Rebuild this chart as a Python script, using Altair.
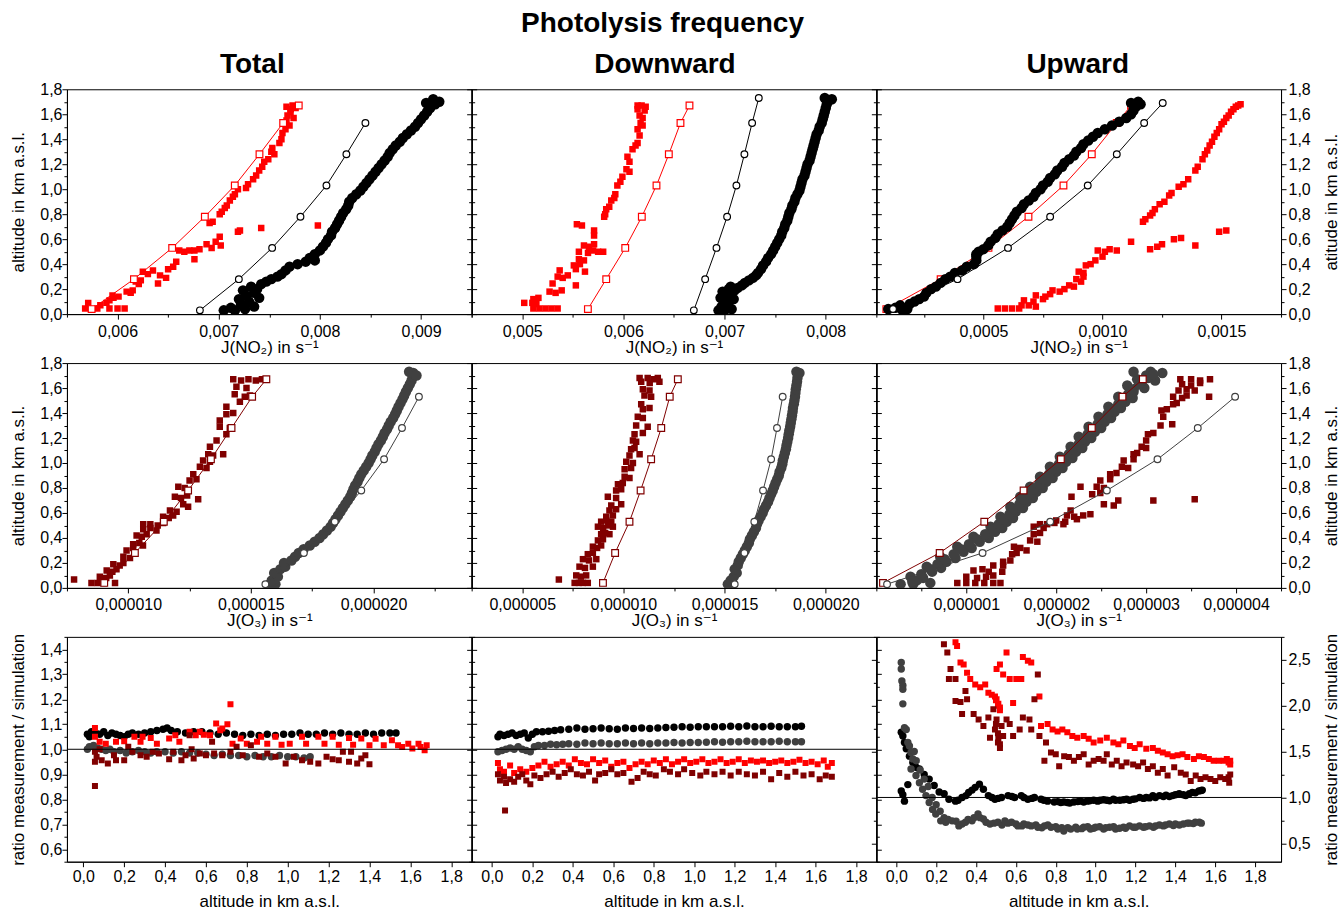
import altair as alt
import pandas as pd

FONT = "Liberation Sans, Arial, Helvetica, DejaVu Sans, sans-serif"
RED, DRED, BLACK, GRAY = "#ff0000", "#800000", "#000000", "#404040"

SIM_ALT_R = [0.04, 0.28, 0.53, 0.78, 1.03, 1.28, 1.53, 1.67]
SIM_ALT_B7 = [0.03, 0.28, 0.53, 0.78, 1.03, 1.28, 1.53]

# ---------------- Row 1: J(NO2) ----------------
A_red_sim = [0.005744, 0.006162, 0.00654, 0.006863, 0.007159, 0.007403, 0.007637, 0.007791]
A_blk_sim = [0.006814, 0.007199, 0.007528, 0.007808, 0.008065, 0.008262, 0.00845]
A_red = [(0.045,0.00568),(0.045,0.00580),(0.045,0.00592),(0.045,0.00600),(0.045,0.00607),(0.09,0.00571),
         (0.09,0.00589),(0.07,0.00583),(0.11,0.00592),(0.13,0.00596),(0.15,0.00595),(0.14,0.00601),(0.18,0.00609),
         (0.17,0.00613),(0.19,0.00615),(0.26,0.00618),(0.24,0.00621),(0.27,0.00623),(0.34,0.00625),(0.32,0.00630),
         (0.35,0.00635),(0.245,0.00640),(0.31,0.00642),(0.29,0.00648),(0.36,0.00650),(0.38,0.00655),(0.42,0.00658),
         (0.51,0.00661),(0.50,0.00666),(0.51,0.00671),(0.51,0.00676),(0.52,0.00681),(0.44,0.00676),(0.56,0.00688),
         (0.53,0.00693),(0.58,0.00697),(0.55,0.00702),(0.62,0.00701),(0.67,0.00721),(0.66,0.00719),(0.69,0.00742),
         (0.71,0.00798),(0.73,0.00691),(0.74,0.00694),(0.80,0.00701),(0.82,0.00703),(0.85,0.00706),(0.87,0.00708),
         (0.91,0.00711),(0.94,0.00714),(0.96,0.00716),(1.00,0.00719),(1.01,0.00727),(1.04,0.00729),(1.08,0.00734),
         (1.11,0.00737),(1.15,0.00740),(1.18,0.00743),(1.22,0.00745),(1.24,0.00749),(1.28,0.00755),(1.30,0.00752),
         (1.33,0.00753),(1.37,0.00760),(1.40,0.00762),(1.45,0.00763),(1.48,0.00766),(1.51,0.00770),(1.55,0.00767),
         (1.57,0.00774),(1.59,0.00768),(1.62,0.00771),(1.64,0.00771),(1.66,0.00767),(1.67,0.00773),(1.65,0.00776)]
A_blk = [(0.03,0.00705),(0.03,0.00716),(0.04,0.00726),(0.05,0.00712),(0.06,0.00735),(0.08,0.00722),(0.10,0.00730),
         (0.12,0.00720),(0.13,0.00740),(0.15,0.00727),(0.17,0.00735),(0.19,0.00724),(0.20,0.00738),(0.22,0.00732),
         (0.24,0.00742),(0.26,0.00747),(0.28,0.00752),(0.30,0.00758),(0.32,0.00762),(0.35,0.00766),(0.38,0.00770),
         (0.40,0.00778),(0.42,0.00786),(0.43,0.00795),(0.45,0.00790),(0.48,0.00795),(0.51,0.00800),(0.54,0.00803),
         (0.57,0.00806),(0.60,0.00808),(0.63,0.00811),(0.66,0.00812),(0.69,0.00815),(0.72,0.00817),(0.75,0.00819),
         (0.78,0.00821),(0.81,0.00823),(0.84,0.00826),(0.87,0.00828),(0.90,0.00829),(0.93,0.00832),(0.96,0.00836),
         (0.99,0.00840),(1.02,0.00843),(1.05,0.00846),(1.08,0.00849),(1.11,0.00852),(1.14,0.00855),(1.17,0.00858),
         (1.20,0.00861),(1.23,0.00864),(1.26,0.00867),(1.29,0.00869),(1.32,0.00872),(1.35,0.00875),(1.38,0.00879),
         (1.41,0.00882),(1.44,0.00886),(1.47,0.00890),(1.50,0.00894),(1.53,0.00897),(1.56,0.00900),(1.59,0.00903),
         (1.62,0.00906),(1.65,0.00909),(1.68,0.00914),(1.70,0.00918),(1.72,0.00912),(1.69,0.00905)]
B_red_sim = [0.005649, 0.00583, 0.006018, 0.006182, 0.006327, 0.006449, 0.006564, 0.006653]
B_blk_alt = [0.03, 0.28, 0.53, 0.78, 1.03, 1.28, 1.53, 1.73]
B_blk_sim = [0.006696, 0.006808, 0.00692, 0.007025, 0.007117, 0.007196, 0.007272, 0.007338]
B_red = [(0.045,0.00511),(0.045,0.00517),(0.045,0.00523),(0.045,0.00529),(0.045,0.00535),(0.09,0.00502),
         (0.09,0.00510),(0.08,0.00514),(0.12,0.00511),(0.13,0.00516),(0.18,0.00527),(0.17,0.00533),(0.19,0.00539),
         (0.245,0.00530),(0.23,0.00553),(0.30,0.00535),(0.29,0.00540),(0.31,0.00545),(0.35,0.00537),(0.36,0.00553),
         (0.34,0.00562),(0.39,0.00551),(0.40,0.00557),(0.44,0.00556),(0.43,0.00561),(0.50,0.00556),(0.49,0.00565),
         (0.51,0.00570),(0.50,0.00575),(0.50,0.00580),(0.55,0.00561),(0.54,0.00566),(0.56,0.00571),(0.63,0.00571),
         (0.67,0.00571),(0.72,0.00554),(0.71,0.00559),(0.78,0.00581),(0.80,0.00582),(0.84,0.00583),(0.86,0.00586),
         (0.91,0.00588),(0.93,0.00591),(0.96,0.00592),(1.03,0.00594),(1.06,0.00597),(1.10,0.00599),(1.16,0.00603),
         (1.14,0.00606),(1.22,0.00606),(1.26,0.00604),(1.32,0.00609),(1.35,0.00612),(1.37,0.00614),(1.43,0.00616),
         (1.48,0.00614),(1.53,0.00617),(1.51,0.00619),(1.59,0.00616),(1.57,0.00619),(1.64,0.00614),(1.63,0.00621),
         (1.67,0.00614),(1.67,0.00618),(1.66,0.00622)]
B_blk = [(0.03,0.00694),(0.03,0.00700),(0.04,0.00707),(0.06,0.00697),(0.08,0.00703),(0.10,0.00700),(0.12,0.00709),
         (0.13,0.00696),(0.14,0.00701),(0.16,0.00706),(0.18,0.00698),(0.19,0.00710),(0.20,0.00704),(0.21,0.00713),
         (0.22,0.00706),(0.23,0.00717),(0.25,0.00720),(0.27,0.00724),(0.29,0.00728),(0.31,0.00731),(0.33,0.00733),
         (0.36,0.00736),(0.39,0.00738),(0.42,0.00741),(0.45,0.00743),(0.48,0.00746),(0.51,0.00748),(0.54,0.00750),
         (0.57,0.00752),(0.60,0.00754),(0.63,0.00756),(0.66,0.00757),(0.69,0.00759),(0.72,0.00760),(0.75,0.00762),
         (0.78,0.00763),(0.81,0.00764),(0.84,0.00766),(0.87,0.00767),(0.90,0.00769),(0.93,0.00770),(0.96,0.00772),
         (0.99,0.00774),(1.02,0.00775),(1.05,0.00776),(1.08,0.00777),(1.11,0.00779),(1.14,0.00780),(1.17,0.00781),
         (1.20,0.00782),(1.23,0.00784),(1.26,0.00785),(1.29,0.00786),(1.32,0.00787),(1.35,0.00788),(1.38,0.00789),
         (1.41,0.00790),(1.44,0.00791),(1.47,0.00793),(1.50,0.00794),(1.53,0.00796),(1.56,0.00797),(1.59,0.00798),
         (1.62,0.00799),(1.65,0.00800),(1.68,0.00801),(1.71,0.00803),(1.73,0.00799),(1.72,0.00806)]
C_red_sim = [0.000092, 0.00032, 0.000521, 0.000689, 0.000836, 0.000955, 0.00106, 0.00112]
C_blk_alt = [0.04, 0.28, 0.53, 0.78, 1.03, 1.28, 1.53, 1.69]
C_blk_sim = [0.00012, 0.000391, 0.000603, 0.00078, 0.000938, 0.00106, 0.001175, 0.001253]
C_blk = [(0.04,0.00010),(0.05,0.00013),(0.03,0.00016),(0.04,0.00018),(0.07,0.00015),(0.08,0.00019),(0.10,0.00021),
         (0.12,0.00023),(0.14,0.00025),(0.17,0.00026),(0.20,0.00028),(0.22,0.00030),(0.25,0.00032),(0.28,0.00034),
         (0.30,0.00036),(0.33,0.00038),(0.35,0.00041),(0.38,0.00043),(0.40,0.00046),(0.43,0.00047),(0.46,0.00047),
         (0.48,0.00047),(0.50,0.00048),(0.52,0.00050),(0.55,0.00052),(0.58,0.00053),(0.61,0.00055),(0.64,0.00056),
         (0.67,0.00058),(0.70,0.00060),(0.73,0.00061),(0.76,0.00062),(0.79,0.00063),(0.82,0.00064),(0.85,0.00066),
         (0.88,0.00067),(0.91,0.00069),(0.94,0.00071),(0.97,0.00072),(1.00,0.00074),(1.03,0.00075),(1.06,0.00077),
         (1.09,0.00078),(1.12,0.00080),(1.15,0.00081),(1.18,0.00083),(1.21,0.00084),(1.24,0.00086),(1.27,0.00088),
         (1.30,0.00089),(1.33,0.00091),(1.36,0.00092),(1.39,0.00094),(1.42,0.00096),(1.45,0.00098),(1.48,0.00101),
         (1.51,0.00104),(1.54,0.00107),(1.57,0.00110),(1.60,0.00112),(1.63,0.00113),(1.66,0.00114),(1.68,0.00116),
         (1.69,0.00112),(1.70,0.00115)]
C_red = [(0.045,0.00056),(0.045,0.00059),(0.045,0.00062),(0.045,0.00065),(0.07,0.00066),(0.07,0.00069),(0.06,0.00072),
         (0.11,0.00067),(0.10,0.00071),(0.12,0.00075),(0.15,0.00072),(0.14,0.00076),(0.16,0.00078),(0.19,0.00079),
         (0.18,0.00082),(0.20,0.00084),(0.23,0.00086),(0.22,0.00088),(0.28,0.00089),(0.26,0.00091),(0.30,0.00092),
         (0.34,0.00090),(0.33,0.00092),(0.39,0.00093),(0.40,0.00095),(0.43,0.00097),(0.51,0.00098),(0.50,0.00101),
         (0.52,0.00103),(0.51,0.00106),(0.46,0.00100),(0.58,0.00112),(0.52,0.00120),(0.54,0.00123),(0.56,0.00125),
         (0.60,0.00130),(0.61,0.00133),(0.55,0.00139),(0.66,0.00149),(0.67,0.00152),(0.74,0.00117),(0.76,0.00118),
         (0.79,0.00120),(0.81,0.00121),(0.84,0.00122),(0.88,0.00124),(0.90,0.00126),(0.95,0.00128),(0.97,0.00129),
         (1.02,0.00132),(1.04,0.00134),(1.08,0.00136),(1.15,0.00139),(1.18,0.00140),(1.24,0.00142),(1.28,0.00143),
         (1.31,0.00144),(1.35,0.00145),(1.38,0.00146),(1.42,0.00147),(1.45,0.00148),(1.48,0.00149),(1.52,0.00150),
         (1.54,0.00151),(1.57,0.00152),(1.59,0.00153),(1.62,0.00154),(1.64,0.00155),(1.66,0.00156),(1.67,0.00157),
         (1.68,0.00158)]

# ---------------- Row 2: J(O3), values in 1e-6 s^-1 ----------------
D_dred_sim = [9.02, 10.27, 11.45, 12.44, 13.37, 14.21, 15.05, 15.63]
D_gray_sim = [15.59, 17.16, 18.42, 19.50, 20.43, 21.16, 21.85]
D_dred = [(0.067,7.79),(0.04,8.50),(0.04,8.75),(0.04,9.00),(0.04,9.46),(0.09,8.84),(0.08,9.10),(0.10,9.25),
          (0.14,9.12),(0.13,9.35),(0.15,9.52),(0.19,9.39),(0.18,9.65),(0.20,9.80),(0.25,9.80),(0.24,10.07),
          (0.30,9.93),(0.32,10.20),(0.35,10.20),(0.36,10.45),(0.34,10.60),(0.42,10.34),(0.41,10.55),(0.43,10.75),
          (0.47,10.61),(0.48,10.90),(0.46,11.15),(0.51,10.61),(0.51,10.90),(0.50,11.20),(0.52,11.42),(0.57,11.42),
          (0.56,11.65),(0.58,11.83),(0.62,11.70),(0.61,11.97),(0.67,12.24),(0.65,12.44),(0.73,11.90),(0.72,12.15),
          (0.74,12.40),(0.71,12.85),(0.81,12.04),(0.80,12.30),(0.86,12.50),(0.87,12.78),(0.91,12.65),(0.97,12.92),
          (0.96,13.19),(1.02,13.05),(1.01,13.33),(1.07,13.26),(1.06,13.46),(1.07,13.87),(1.13,13.33),(1.18,13.60),
          (1.23,14.00),(1.29,13.73),(1.28,14.14),(1.34,13.73),(1.39,14.00),(1.40,14.28),(1.45,14.00),(1.49,14.55),
          (1.55,14.34),(1.53,14.75),(1.54,14.96),(1.61,14.41),(1.60,14.82),(1.67,14.28),(1.66,14.60),(1.67,14.90),
          (1.66,15.20),(1.67,15.45)]
D_gray = [(0.03,15.77),(0.03,16.00),(0.06,15.85),(0.09,16.10),(0.12,15.95),(0.15,16.20),(0.17,16.40),(0.20,16.35),
          (0.22,16.65),(0.25,16.80),(0.28,16.95),(0.31,17.15),(0.34,17.40),(0.37,17.60),(0.40,17.80),(0.43,17.95),
          (0.46,18.10),(0.49,18.25),(0.52,18.35),(0.55,18.45),(0.58,18.55),(0.61,18.65),(0.64,18.75),(0.67,18.85),
          (0.70,18.95),(0.73,19.05),(0.76,19.12),(0.79,19.18),(0.82,19.25),(0.85,19.35),(0.88,19.42),(0.91,19.50),
          (0.94,19.60),(0.97,19.70),(1.00,19.80),(1.03,19.88),(1.06,19.95),(1.09,20.05),(1.12,20.12),(1.15,20.20),
          (1.18,20.30),(1.21,20.38),(1.24,20.45),(1.27,20.55),(1.30,20.62),(1.33,20.70),(1.36,20.80),(1.39,20.88),
          (1.42,20.95),(1.45,21.02),(1.48,21.10),(1.51,21.18),(1.54,21.25),(1.57,21.32),(1.60,21.40),(1.63,21.48),
          (1.66,21.55),(1.69,21.60),(1.72,21.62),(1.73,21.45),(1.70,21.75)]
E_dred_sim = [8.99, 9.59, 10.30, 10.85, 11.37, 11.87, 12.29, 12.69]
E_gray_sim = [15.50, 15.98, 16.47, 16.90, 17.30, 17.59, 17.87]
E_dred = [(0.067,6.81),(0.04,7.59),(0.04,7.80),(0.04,8.00),(0.04,8.24),(0.10,7.67),(0.09,7.90),(0.10,8.16),
          (0.17,7.83),(0.16,8.10),(0.17,8.49),(0.23,8.00),(0.22,8.30),(0.23,8.66),(0.27,8.24),(0.28,8.49),
          (0.33,8.49),(0.32,8.70),(0.34,8.90),(0.38,8.74),(0.39,8.99),(0.43,8.90),(0.44,9.10),(0.43,9.31),
          (0.49,8.74),(0.48,9.00),(0.50,9.25),(0.49,9.48),(0.53,8.90),(0.54,9.15),(0.53,9.40),(0.57,9.15),
          (0.58,9.48),(0.62,9.31),(0.63,9.64),(0.66,9.40),(0.67,9.89),(0.73,9.23),(0.72,9.64),(0.78,9.64),
          (0.79,9.89),(0.83,9.73),(0.84,9.97),(0.89,10.06),(0.88,10.30),(0.95,10.06),(0.96,10.38),(1.01,10.14),
          (1.00,10.47),(1.06,10.30),(1.07,10.80),(1.11,10.38),(1.12,10.55),(1.18,10.47),(1.17,10.63),(1.23,10.55),
          (1.24,10.96),(1.30,10.63),(1.29,11.20),(1.37,10.71),(1.36,10.96),(1.43,10.96),(1.44,11.29),(1.47,10.88),
          (1.54,11.04),(1.53,11.37),(1.59,10.96),(1.58,11.29),(1.65,10.88),(1.64,11.30),(1.65,11.78),(1.68,10.80),
          (1.68,11.20),(1.67,11.50),(1.68,11.70)]
E_gray = [(0.03,15.16),(0.03,15.40),(0.06,15.30),(0.09,15.45),(0.12,15.60),(0.15,15.50),(0.18,15.65),(0.21,15.70),
          (0.24,15.80),(0.27,15.90),(0.30,16.00),(0.33,16.10),(0.36,16.20),(0.39,16.25),(0.42,16.35),(0.45,16.45),
          (0.48,16.55),(0.51,16.60),(0.54,16.68),(0.57,16.78),(0.60,16.88),(0.63,16.95),(0.66,17.05),(0.69,17.15),
          (0.72,17.22),(0.75,17.30),(0.78,17.38),(0.81,17.45),(0.84,17.52),(0.87,17.60),(0.90,17.68),(0.93,17.72),
          (0.96,17.80),(0.99,17.85),(1.02,17.88),(1.05,17.93),(1.08,17.98),(1.11,18.03),(1.14,18.06),(1.17,18.10),
          (1.20,18.14),(1.23,18.17),(1.26,18.20),(1.29,18.24),(1.32,18.27),(1.35,18.30),(1.38,18.33),(1.41,18.36),
          (1.44,18.38),(1.47,18.42),(1.50,18.45),(1.53,18.48),(1.56,18.50),(1.59,18.52),(1.62,18.55),(1.65,18.58),
          (1.68,18.60),(1.71,18.62),(1.73,18.55),(1.72,18.70)]
F_dred_sim = [0.074, 0.704, 1.20, 1.637, 2.052, 2.396, 2.737, 2.963]
F_gray_sim = [0.119, 1.181, 1.933, 2.563, 3.126, 3.574, 3.989]
F_gray = [(0.03,0.27),(0.03,0.41),(0.04,0.60),(0.09,0.38),(0.08,0.52),(0.06,0.45),(0.13,0.62),(0.17,0.56),
          (0.16,0.72),(0.21,0.78),(0.25,0.71),(0.24,0.88),(0.29,0.97),(0.33,0.90),(0.32,1.06),(0.37,1.15),
          (0.41,1.08),(0.40,1.25),(0.45,1.32),(0.49,1.27),(0.48,1.40),(0.53,1.45),(0.57,1.38),(0.56,1.52),
          (0.61,1.55),(0.65,1.49),(0.64,1.63),(0.69,1.67),(0.73,1.60),(0.72,1.74),(0.77,1.78),(0.81,1.71),
          (0.80,1.85),(0.85,1.89),(0.89,1.82),(0.88,1.96),(0.93,2.00),(0.97,1.93),(0.96,2.07),(1.01,2.11),
          (1.05,2.04),(1.04,2.18),(1.09,2.22),(1.13,2.16),(1.12,2.29),(1.17,2.32),(1.21,2.25),(1.20,2.39),
          (1.25,2.43),(1.29,2.36),(1.28,2.50),(1.33,2.54),(1.37,2.47),(1.36,2.61),(1.41,2.65),(1.45,2.58),
          (1.44,2.72),(1.49,2.77),(1.53,2.69),(1.52,2.85),(1.57,2.86),(1.62,2.79),(1.60,2.98),(1.64,2.95),
          (1.67,2.90),(1.66,3.10),(1.70,3.00),(1.73,2.86),(1.73,3.05),(1.72,3.18),
          (0.05,0.40),(0.11,0.50),(0.15,0.60),(0.19,0.68),(0.23,0.76),(0.27,0.86),(0.31,0.94),(0.35,1.03),
          (0.39,1.12),(0.43,1.21),(0.47,1.30),(0.51,1.36),(0.55,1.42),(0.59,1.48),(0.63,1.53),(0.67,1.59),
          (0.71,1.64),(0.75,1.70),(0.79,1.75),(0.83,1.81),(0.87,1.86),(0.91,1.92),(0.95,1.97),(0.99,2.03),
          (1.03,2.08),(1.07,2.14),(1.11,2.19),(1.15,2.25),(1.19,2.30),(1.23,2.35),(1.27,2.41),(1.31,2.46),
          (1.35,2.52),(1.39,2.57),(1.43,2.63),(1.47,2.69),(1.51,2.74),(1.55,2.80),(1.59,2.86),(1.63,2.92),
          (1.68,3.02),(1.71,3.08)]
F_dred = [(0.04,0.90),(0.04,1.00),(0.04,1.10),(0.04,1.20),(0.04,1.30),(0.04,1.38),(0.09,1.00),(0.08,1.12),
          (0.09,1.22),(0.10,1.30),(0.14,1.08),(0.15,1.18),(0.13,1.25),(0.13,1.40),(0.18,1.30),(0.18,1.41),
          (0.21,1.41),(0.22,1.49),(0.27,1.51),(0.28,1.56),(0.33,1.53),(0.32,1.60),(0.30,1.67),(0.38,1.71),
          (0.37,1.79),(0.43,1.75),(0.44,1.82),(0.49,1.75),(0.48,1.86),(0.51,1.82),(0.51,1.90),(0.52,1.98),
          (0.51,2.08),(0.54,2.00),(0.53,2.10),(0.55,2.23),(0.58,2.12),(0.57,2.20),(0.58,2.30),(0.59,2.38),
          (0.62,2.16),(0.73,2.17),(0.81,2.27),(0.67,2.53),(0.66,2.64),(0.70,2.69),(0.70,3.08),(0.71,3.54),
          (0.75,2.40),(0.76,2.49),(0.81,2.45),(0.80,2.53),(0.86,2.49),(0.87,2.60),(0.91,2.60),(0.92,2.67),
          (0.97,2.73),(0.96,2.80),(1.02,2.75),(1.03,2.86),(1.07,2.86),(1.08,2.90),(1.13,2.95),(1.12,3.00),
          (1.18,3.00),(1.23,3.02),(1.24,3.08),(1.30,3.16),(1.31,3.29),(1.37,3.19),(1.42,3.17),(1.43,3.23),
          (1.47,3.30),(1.48,3.34),(1.53,3.30),(1.52,3.40),(1.54,3.45),(1.53,3.70),(1.58,3.36),(1.59,3.45),
          (1.58,3.54),(1.63,3.40),(1.62,3.50),(1.64,3.60),(1.67,3.38),(1.67,3.50),(1.66,3.60),(1.67,3.71)]

# ---------------- Row 3: ratio measurement / simulation vs altitude ----------------
G_blk = [(0.02,1.06),(0.03,1.05),(0.04,1.07),(0.06,1.065),(0.08,1.06),(0.10,1.07),(0.12,1.055),(0.14,1.065),
         (0.16,1.06),(0.18,1.055),(0.20,1.05),(0.22,1.06),(0.24,1.065),(0.27,1.06),(0.30,1.065),(0.33,1.07),
         (0.36,1.075),(0.39,1.08),(0.41,1.085),(0.43,1.075),(0.46,1.07),(0.50,1.065),(0.54,1.07),(0.58,1.07),
         (0.62,1.065),(0.66,1.06),(0.70,1.065),(0.74,1.06),(0.78,1.055),(0.82,1.06),(0.86,1.055),(0.90,1.06),
         (0.94,1.055),(0.98,1.06),(1.02,1.06),(1.06,1.065),(1.10,1.06),(1.14,1.06),(1.18,1.065),(1.22,1.06),
         (1.26,1.065),(1.30,1.06),(1.34,1.06),(1.38,1.065),(1.42,1.06),(1.46,1.065),(1.50,1.065),(1.53,1.065)]
G_gray = [(0.02,1.0),(0.03,1.01),(0.05,1.015),(0.07,1.005),(0.09,1.0),(0.11,0.995),(0.13,1.0),(0.15,0.99),
          (0.18,0.995),(0.21,0.985),(0.24,0.99),(0.27,0.995),(0.30,0.99),(0.33,0.985),(0.36,0.99),(0.40,0.99),
          (0.44,0.985),(0.48,0.99),(0.52,0.985),(0.56,0.985),(0.60,0.98),(0.64,0.975),(0.68,0.98),(0.72,0.975),
          (0.76,0.975),(0.80,0.97),(0.84,0.975),(0.88,0.97),(0.92,0.97),(0.96,0.975),(1.00,0.97),(1.04,0.97),
          (1.08,0.965),(1.11,0.97)]
G_red = [(0.057,1.085),(0.057,1.05),(0.08,1.03),(0.11,1.022),(0.16,1.03),(0.20,1.032),(0.25,1.05),(0.28,1.03),
         (0.29,1.05),(0.33,1.045),(0.36,1.022),(0.42,1.043),(0.45,1.056),(0.47,1.03),(0.52,1.07),(0.55,1.056),
         (0.57,1.07),(0.59,1.058),(0.62,1.056),(0.65,1.103),(0.67,1.076),(0.68,1.083),(0.705,1.10),(0.72,1.18),
         (0.73,1.022),(0.77,1.043),(0.80,1.022),(0.85,1.03),(0.87,1.05),(0.90,1.022),(0.94,1.05),(0.97,1.018),
         (1.01,1.022),(1.07,1.05),(1.09,1.022),(1.15,1.05),(1.18,1.022),(1.22,1.05),(1.25,1.018),(1.30,1.045),
         (1.32,1.018),(1.36,1.043),(1.40,1.016),(1.43,1.042),(1.47,1.016),(1.51,1.036),(1.54,1.016),(1.56,1.009),
         (1.59,1.022),(1.61,1.003),(1.64,1.022),(1.65,1.009),(1.67,0.996),(1.68,1.016)]
G_dred = [(0.057,0.99),(0.057,0.95),(0.057,0.853),(0.065,0.97),(0.08,1.0),(0.09,0.956),(0.12,0.943),(0.15,0.976),
          (0.16,0.956),(0.20,0.956),(0.22,1.01),(0.24,0.99),(0.28,0.976),(0.31,0.97),(0.34,0.99),(0.37,0.983),
          (0.42,0.96),(0.44,0.99),(0.48,0.956),(0.50,0.976),(0.52,1.056),(0.53,1.0),(0.54,0.963),(0.57,0.983),
          (0.60,0.976),(0.63,1.03),(0.64,0.983),(0.68,0.976),(0.72,0.99),(0.75,1.01),(0.78,0.976),(0.82,1.016),
          (0.86,0.97),(0.90,0.983),(0.94,0.97),(0.99,0.943),(1.03,0.97),(1.07,0.956),(1.11,0.95),(1.15,0.943),
          (1.19,0.97),(1.22,0.96),(1.25,0.956),(1.27,0.99),(1.30,0.95),(1.31,0.99),(1.34,0.943),(1.36,0.963),
          (1.38,0.976),(1.40,0.94)]
H_blk = [(0.03,1.05),(0.04,1.06),(0.06,1.055),(0.08,1.06),(0.10,1.065),(0.12,1.055),(0.14,1.06),(0.16,1.065),
         (0.18,1.045),(0.20,1.06),(0.22,1.07),(0.25,1.07),(0.28,1.072),(0.31,1.075),(0.34,1.078),(0.38,1.08),
         (0.42,1.085),(0.46,1.08),(0.50,1.082),(0.54,1.085),(0.58,1.082),(0.62,1.08),(0.66,1.085),(0.70,1.083),
         (0.74,1.085),(0.78,1.083),(0.82,1.085),(0.86,1.087),(0.90,1.088),(0.94,1.09),(0.98,1.088),(1.02,1.09),
         (1.06,1.09),(1.10,1.09),(1.14,1.09),(1.18,1.092),(1.22,1.09),(1.26,1.093),(1.30,1.09),(1.34,1.09),
         (1.38,1.092),(1.42,1.09),(1.46,1.09),(1.50,1.09),(1.53,1.092)]
H_gray = [(0.03,0.99),(0.05,0.995),(0.07,1.0),(0.09,1.005),(0.11,1.0),(0.13,1.01),(0.15,1.0),(0.17,0.995),
          (0.19,0.99),(0.21,1.01),(0.23,1.015),(0.26,1.015),(0.29,1.02),(0.32,1.018),(0.35,1.02),(0.38,1.022),
          (0.42,1.02),(0.46,1.025),(0.50,1.022),(0.54,1.025),(0.58,1.022),(0.62,1.022),(0.66,1.025),(0.70,1.022),
          (0.74,1.025),(0.78,1.022),(0.82,1.025),(0.86,1.025),(0.90,1.027),(0.94,1.025),(0.98,1.027),(1.02,1.027),
          (1.06,1.028),(1.10,1.03),(1.14,1.028),(1.18,1.03),(1.22,1.03),(1.26,1.032),(1.30,1.03),(1.34,1.03),
          (1.38,1.03),(1.42,1.032),(1.46,1.03),(1.50,1.03),(1.53,1.03)]
H_red = [(0.03,0.945),(0.04,0.92),(0.06,0.91),(0.09,0.935),(0.11,0.905),(0.14,0.92),(0.17,0.91),(0.20,0.925),
         (0.23,0.935),(0.26,0.95),(0.29,0.93),(0.32,0.94),(0.35,0.95),(0.38,0.935),(0.41,0.96),(0.44,0.945),
         (0.47,0.94),(0.50,0.96),(0.53,0.945),(0.56,0.955),(0.59,0.93),(0.62,0.945),(0.65,0.95),(0.68,0.925),
         (0.71,0.94),(0.74,0.95),(0.77,0.94),(0.80,0.955),(0.83,0.945),(0.86,0.96),(0.89,0.94),(0.92,0.95),
         (0.95,0.96),(0.98,0.945),(1.01,0.95),(1.04,0.96),(1.07,0.945),(1.10,0.95),(1.13,0.96),(1.16,0.945),
         (1.19,0.95),(1.22,0.96),(1.25,0.945),(1.28,0.955),(1.31,0.95),(1.34,0.955),(1.37,0.945),(1.40,0.95),
         (1.43,0.955),(1.46,0.945),(1.49,0.95),(1.52,0.958),(1.55,0.945),(1.58,0.95),(1.61,0.94),(1.64,0.955),
         (1.66,0.93),(1.68,0.945)]
H_dred = [(0.03,0.90),(0.04,0.875),(0.06,0.89),(0.065,0.755),(0.07,0.865),(0.09,0.88),(0.11,0.87),(0.13,0.89),
          (0.15,0.90),(0.17,0.875),(0.19,0.86),(0.21,0.895),(0.24,0.885),(0.27,0.90),(0.30,0.91),(0.33,0.89),
          (0.36,0.905),(0.39,0.92),(0.42,0.90),(0.45,0.895),(0.48,0.91),(0.51,0.875),(0.53,0.90),(0.56,0.905),
          (0.59,0.92),(0.62,0.90),(0.65,0.905),(0.69,0.87),(0.72,0.885),(0.75,0.91),(0.78,0.90),(0.81,0.895),
          (0.85,0.92),(0.88,0.91),(0.92,0.90),(0.95,0.92),(0.99,0.905),(1.03,0.895),(1.06,0.91),(1.10,0.90),
          (1.14,0.91),(1.18,0.895),(1.22,0.91),(1.26,0.90),(1.30,0.895),(1.34,0.91),(1.38,0.88),(1.42,0.905),
          (1.46,0.89),(1.50,0.91),(1.54,0.895),(1.58,0.90),(1.62,0.88),(1.65,0.895),(1.68,0.89)]
I_blk = [(0.025,1.71),(0.033,1.67),(0.025,1.07),(0.033,1.03),(0.041,0.96),(0.058,1.14),(0.041,1.60),(0.05,1.53),
         (0.066,1.45),(0.083,1.38),(0.099,1.33),(0.116,1.31),(0.14,1.25),(0.165,1.20),(0.19,1.13),(0.215,1.06),
         (0.24,1.04),(0.264,0.98),(0.297,0.96),(0.31,0.97),(0.33,1.00),(0.35,1.02),(0.363,1.055),(0.38,1.08),
         (0.396,1.11),(0.417,1.145),(0.437,1.09),(0.462,1.02),(0.48,1.00),(0.495,0.98),(0.51,0.99),(0.528,1.00),
         (0.561,1.02),(0.58,1.01),(0.594,1.00),(0.627,1.02),(0.64,1.00),(0.66,0.98),(0.68,0.99),(0.693,1.00),
         (0.726,0.98),(0.74,0.97),(0.759,0.96),(0.792,0.95),(0.81,0.955),(0.825,0.945),(0.84,0.95),(0.858,0.945),
         (0.87,0.94),(0.891,0.95),(0.91,0.955),(0.924,0.96),(0.94,0.95),(0.957,0.96),(0.97,0.965),(0.99,0.97),
         (1.01,0.96),(1.023,0.97),(1.04,0.975),(1.056,0.97),(1.07,0.965),(1.089,0.98),(1.10,0.97),(1.122,0.97),
         (1.14,0.975),(1.155,0.98),(1.17,0.97),(1.188,0.98),(1.20,0.985),(1.221,1.00),(1.24,0.99),(1.254,1.00),
         (1.27,0.995),(1.287,1.02),(1.30,1.00),(1.32,1.02),(1.34,1.01),(1.353,1.025),(1.37,1.01),(1.386,1.02),
         (1.40,1.03),(1.419,1.04),(1.44,1.03),(1.452,1.02),(1.47,1.04),(1.485,1.055),(1.50,1.05),(1.518,1.07),
         (1.53,1.075),(1.535,1.08)]
I_gray = [(0.025,2.47),(0.025,2.40),(0.028,2.27),(0.033,2.22),(0.033,2.18),(0.033,2.02),(0.041,1.76),(0.05,1.74),
          (0.058,1.60),(0.066,1.56),(0.074,1.49),(0.083,1.42),(0.074,1.31),(0.09,1.50),(0.10,1.40),(0.099,1.24),
          (0.12,1.30),(0.116,1.16),(0.14,1.20),(0.132,1.09),(0.16,1.12),(0.149,1.02),(0.18,1.00),(0.165,0.945),
          (0.182,0.87),(0.20,0.92),(0.198,0.82),(0.22,0.85),(0.223,0.745),(0.24,0.78),(0.248,0.73),(0.26,0.76),
          (0.28,0.745),(0.30,0.74),(0.314,0.69),(0.33,0.71),(0.347,0.73),(0.36,0.76),(0.38,0.745),(0.39,0.78),
          (0.41,0.82),(0.42,0.78),(0.437,0.765),(0.45,0.73),(0.47,0.71),(0.49,0.72),(0.51,0.73),(0.53,0.70),
          (0.545,0.745),(0.56,0.72),(0.578,0.73),(0.60,0.71),(0.61,0.69),(0.63,0.69),(0.64,0.71),(0.66,0.70),
          (0.677,0.69),(0.70,0.70),(0.71,0.675),(0.73,0.67),(0.743,0.69),(0.76,0.70),(0.776,0.675),(0.80,0.68),
          (0.81,0.655),(0.83,0.67),(0.84,0.635),(0.86,0.67),(0.875,0.655),(0.90,0.675),(0.908,0.655),(0.93,0.66),
          (0.94,0.675),(0.96,0.68),(0.974,0.655),(0.99,0.665),(1.00,0.675),(1.02,0.68),(1.04,0.655),(1.05,0.67),
          (1.07,0.675),(1.09,0.68),(1.10,0.655),(1.12,0.665),(1.14,0.675),(1.15,0.665),(1.17,0.69),(1.19,0.675),
          (1.20,0.675),(1.22,0.69),(1.24,0.675),(1.25,0.68),(1.27,0.69),(1.29,0.675),(1.30,0.69),(1.32,0.70),
          (1.34,0.69),(1.35,0.70),(1.37,0.71),(1.39,0.695),(1.40,0.71),(1.42,0.70),(1.44,0.71),(1.46,0.72),
          (1.47,0.72),(1.49,0.715),(1.50,0.73),(1.52,0.73),(1.53,0.72)]
I_red = [(0.297,2.69),(0.305,2.65),(0.322,2.47),(0.338,2.45),(0.355,2.36),(0.371,2.29),(0.396,2.23),(0.421,2.20),
         (0.446,2.23),(0.462,2.14),(0.479,2.12),(0.495,2.10),(0.50,2.06),(0.503,2.07),(0.51,2.00),(0.512,2.02),
         (0.52,1.95),(0.52,1.98),(0.503,2.40),(0.52,2.45),(0.536,2.34),(0.553,2.58),(0.569,2.29),(0.586,2.03),
         (0.602,2.29),(0.627,2.29),(0.635,2.53),(0.66,2.49),(0.677,2.47),(0.718,2.10),(0.726,1.78),(0.759,1.80),
         (0.784,1.74),(0.809,1.72),(0.833,1.74),(0.858,1.71),(0.883,1.67),(0.908,1.65),(0.94,1.67),(0.965,1.64),
         (0.99,1.60),(1.023,1.62),(1.056,1.65),(1.089,1.60),(1.114,1.58),(1.139,1.62),(1.172,1.56),(1.196,1.54),
         (1.221,1.58),(1.254,1.53),(1.287,1.54),(1.312,1.51),(1.337,1.49),(1.361,1.47),(1.386,1.45),(1.411,1.46),
         (1.436,1.47),(1.46,1.44),(1.493,1.42),(1.518,1.45),(1.543,1.44),(1.568,1.42),(1.592,1.40),(1.617,1.40),
         (1.642,1.40),(1.658,1.42),(1.667,1.38),(1.675,1.40),(1.675,1.36)]
I_dred = [(0.239,2.67),(0.256,2.58),(0.272,2.40),(0.264,2.29),(0.297,2.29),(0.322,2.04),(0.297,2.05),(0.347,2.16),
          (0.33,1.91),(0.355,2.07),(0.388,1.91),(0.413,1.85),(0.437,1.78),(0.462,1.87),(0.47,1.65),(0.487,1.96),
          (0.495,1.74),(0.50,1.80),(0.503,1.85),(0.51,1.70),(0.51,1.60),(0.512,1.64),(0.52,1.54),(0.52,1.58),
          (0.528,1.78),(0.536,1.67),(0.553,1.85),(0.569,1.80),(0.586,1.67),(0.619,1.74),(0.635,1.87),(0.668,1.85),
          (0.677,1.74),(0.693,2.07),(0.71,2.34),(0.718,1.67),(0.743,1.40),(0.751,1.60),(0.776,1.49),(0.80,1.47),
          (0.817,1.34),(0.842,1.45),(0.866,1.44),(0.891,1.40),(0.916,1.44),(0.94,1.47),(0.965,1.36),(0.99,1.40),
          (1.015,1.42),(1.04,1.40),(1.056,1.47),(1.081,1.36),(1.106,1.40),(1.13,1.34),(1.155,1.38),(1.188,1.36),
          (1.213,1.34),(1.238,1.38),(1.262,1.31),(1.287,1.34),(1.312,1.27),(1.337,1.31),(1.361,1.24),(1.394,1.33),
          (1.427,1.27),(1.452,1.25),(1.477,1.18),(1.502,1.24),(1.526,1.20),(1.551,1.22),(1.576,1.20),(1.60,1.18),
          (1.625,1.22),(1.65,1.20),(1.667,1.22),(1.67,1.16),(1.675,1.25)]


# ---------------- helpers ----------------
def pairs_df(pairs, scale=1.0, swap=False):
    if swap:  # (x, y) pairs
        return pd.DataFrame({"x": [p[0] for p in pairs], "y": [p[1] for p in pairs]})
    return pd.DataFrame({"y": [p[0] for p in pairs], "x": [p[1] * scale for p in pairs]})


def sim_df(alts, vals, scale=1.0):
    return pd.DataFrame({"y": alts, "x": [v * scale for v in vals]})


def steps(start, stop, step, nd=9):
    out, v = [], start
    while v <= stop + step * 1e-6:
        out.append(round(v, nd))
        v += step
    return out


def mk_axis(orient, values, major, fmt, labels=True, title=None, label_pad=3, title_pad=4,
            title_angle=None, title_baseline=None):
    test = f"abs(datum.value/{major!r} - round(datum.value/{major!r})) < 1e-6"
    kw = dict(orient=orient, values=values, grid=False, ticks=True, domain=True,
              domainColor="black", tickColor="black", domainWidth=1, tickWidth=1,
              tickSize={"condition": {"test": test, "value": 5}, "value": 3},
              labels=labels, labelFont=FONT, labelFontSize=16, labelColor="black",
              labelOverlap=False, labelFlush=False, labelPadding=label_pad,
              titleFont=FONT, titleFontSize=17, titleFontWeight="normal", titleColor="black",
              titlePadding=title_pad, title=title)
    if labels:
        kw["labelExpr"] = f"{test} ? replace(format(datum.value, '{fmt}'), '.', ',') : ''"
    if title_angle is not None:
        kw["titleAngle"] = title_angle
    if title_baseline is not None:
        kw["titleBaseline"] = title_baseline
    return alt.Axis(**kw)


def layer_chart(df, kind, color, xs, ys, xaxis, yaxis, size):
    # x: only the first layer carries explicit axis settings (others merge into it)
    xenc = alt.X("x:Q", scale=xs, axis=xaxis) if xaxis is not None else alt.X("x:Q", scale=xs)
    enc = dict(x=xenc, y=alt.Y("y:Q", scale=ys, axis=yaxis))
    c = alt.Chart(df)
    if kind == "sq":
        m = c.mark_square(color=color, size=size, opacity=1, clip=True)
    elif kind == "ci":
        m = c.mark_circle(color=color, size=size, opacity=1, clip=True)
    elif kind == "line":
        m = c.mark_line(color=color, strokeWidth=1, clip=True)
        enc["order"] = alt.Order("y:Q")
    elif kind == "osq":
        m = c.mark_point(shape="square", filled=True, fill="white", stroke=color, strokeWidth=1.2,
                         size=size, opacity=1, clip=True)
    elif kind == "oci":
        m = c.mark_point(shape="circle", filled=True, fill="white", stroke=color, strokeWidth=1.2,
                         size=size, opacity=1, clip=True)
    else:  # rule at y = 1
        m = c.mark_rule(color=color, strokeWidth=1)
        enc = dict(y=alt.Y("y:Q", scale=ys, axis=yaxis))
    return m.encode(**enc)


def panel(layers, xdom, ydom, xaxis, yl, yr, w, h, title=None, title_dx=0, title_off=9):
    xs = alt.Scale(domain=xdom, nice=False, zero=False)
    ys = alt.Scale(domain=ydom, nice=False, zero=False)
    charts = []
    n = len(layers)
    for i, (df, kind, color, size) in enumerate(layers):
        xa = xaxis if i == 0 else None
        ya = yl if i == 0 else (yr if i == n - 1 else None)
        charts.append(layer_chart(df, kind, color, xs, ys, xa, ya, size))
    ch = alt.layer(*charts).resolve_axis(y="independent").properties(width=w, height=h)
    if title:
        ch = ch.properties(title=alt.TitleParams(title, font=FONT, fontSize=28, fontWeight="bold",
                                                 color="black", offset=title_off, frame="group", dx=title_dx))
    return ch


W = 405
H = 225
ALT_VALS = steps(0.0, 1.8, 0.1, 2)
T_NO2 = "J(NO\u2082) in s\u207b\u00b9"
T_O3 = "J(O\u2083) in s\u207b\u00b9"
T_ALT = "altitude in km a.s.l."
T_RATIO = "ratio measurement / simulation"
S_SQ, S_CI, S_OSQ, S_OCI = 42, 110, 45, 45


def yaxes(col, vals, major, left_title, right_title):
    yl = mk_axis("left", vals, major, ".1f", labels=(col == 0), title=(left_title if col == 0 else None),
                 label_pad=0, title_pad=12)
    yr = mk_axis("right", vals, major, ".1f", labels=(col == 2), title=(right_title if col == 2 else None),
                 label_pad=2, title_pad=13, title_angle=270, title_baseline="top")
    return yl, yr


panels = []
# Row 1
for col, (xdom, xvals, major, fmt, lays, title, tdx, toff) in enumerate([
    ([0.0055, 0.0095], steps(0.0055, 0.0095, 0.0005), 0.001, ".3f",
     [(pairs_df(A_red), "sq", RED, S_SQ), (pairs_df(A_blk), "ci", BLACK, S_CI),
      (sim_df(SIM_ALT_R, A_red_sim), "line", RED, 0), (sim_df(SIM_ALT_R, A_red_sim), "osq", RED, S_OSQ),
      (sim_df(SIM_ALT_B7, A_blk_sim), "line", BLACK, 0), (sim_df(SIM_ALT_B7, A_blk_sim), "oci", BLACK, S_OCI)],
     "Total", -17, 2),
    ([0.0045, 0.0085], steps(0.0045, 0.0085, 0.0005), 0.001, ".3f",
     [(pairs_df(B_red), "sq", RED, S_SQ), (pairs_df(B_blk), "ci", BLACK, S_CI),
      (sim_df(SIM_ALT_R, B_red_sim), "line", RED, 0), (sim_df(SIM_ALT_R, B_red_sim), "osq", RED, S_OSQ),
      (sim_df(B_blk_alt, B_blk_sim), "line", BLACK, 0), (sim_df(B_blk_alt, B_blk_sim), "oci", BLACK, S_OCI)],
     "Downward", -9, 10),
    ([0.00005, 0.00175], steps(0.00025, 0.00175, 0.00025), 0.0005, ".4f",
     [(sim_df(SIM_ALT_R, C_red_sim), "line", RED, 0), (sim_df(SIM_ALT_R, C_red_sim), "osq", RED, S_OSQ),
      (pairs_df(C_blk), "ci", BLACK, S_CI), (pairs_df(C_red), "sq", RED, S_SQ),
      (sim_df(C_blk_alt, C_blk_sim), "line", BLACK, 0), (sim_df(C_blk_alt, C_blk_sim), "oci", BLACK, S_OCI)],
     "Upward", -1, 2),
]):
    xa = mk_axis("bottom", xvals, major, fmt, title=T_NO2, label_pad=4, title_pad=0)
    yl, yr = yaxes(col, ALT_VALS, 0.2, T_ALT, "atitude in km a.s.l.")
    panels.append(panel(lays, xdom, [0, 1.8], xa, yl, yr, W, H, title, tdx, toff))

# Row 2
U = 1e-6
for col, (xdom, xvals, major, fmt, lays) in enumerate([
    ([7.5e-6, 24e-6], steps(7.5e-6, 22.5e-6, 2.5e-6, 10), 5e-6, ".6f",
     [(pairs_df(D_dred, U), "sq", DRED, S_SQ), (pairs_df(D_gray, U), "ci", GRAY, S_CI),
      (sim_df(SIM_ALT_R, D_dred_sim, U), "line", DRED, 0), (sim_df(SIM_ALT_R, D_dred_sim, U), "osq", DRED, S_OSQ),
      (sim_df(SIM_ALT_B7, D_gray_sim, U), "line", GRAY, 0), (sim_df(SIM_ALT_B7, D_gray_sim, U), "oci", GRAY, S_OCI)]),
    ([2.5e-6, 22.5e-6], steps(2.5e-6, 22.5e-6, 2.5e-6, 10), 5e-6, ".6f",
     [(pairs_df(E_dred, U), "sq", DRED, S_SQ), (pairs_df(E_gray, U), "ci", GRAY, S_CI),
      (sim_df(SIM_ALT_R, E_dred_sim, U), "line", DRED, 0), (sim_df(SIM_ALT_R, E_dred_sim, U), "osq", DRED, S_OSQ),
      (sim_df(SIM_ALT_B7, E_gray_sim, U), "line", GRAY, 0), (sim_df(SIM_ALT_B7, E_gray_sim, U), "oci", GRAY, S_OCI)]),
    ([0.0, 4.5e-6], steps(0.5e-6, 4.5e-6, 0.5e-6, 10), 1e-6, ".6f",
     [(pairs_df(F_gray, U), "ci", GRAY, S_CI), (pairs_df(F_dred, U), "sq", DRED, S_SQ),
      (sim_df(SIM_ALT_R, F_dred_sim, U), "line", DRED, 0), (sim_df(SIM_ALT_R, F_dred_sim, U), "osq", DRED, S_OSQ),
      (sim_df(SIM_ALT_B7, F_gray_sim, U), "line", GRAY, 0), (sim_df(SIM_ALT_B7, F_gray_sim, U), "oci", GRAY, S_OCI)]),
]):
    xa = mk_axis("bottom", xvals, major, fmt, title=T_O3, label_pad=4, title_pad=0)
    yl, yr = yaxes(col, ALT_VALS, 0.2, T_ALT, T_ALT)
    panels.append(panel(lays, xdom, [0, 1.8], xa, yl, yr, W, H))

# Row 3
ONE = pd.DataFrame({"y": [1.0]})
R_LEFT = steps(0.55, 1.45, 0.05, 3)
R_RIGHT = steps(0.5, 2.75, 0.25, 3)
for col, (xdom, ydom, yvals, ymajor, sets) in enumerate([
    ([-0.08, 1.9], [0.55, 1.45], R_LEFT, 0.1, (G_gray, G_blk, G_red, G_dred)),
    ([-0.1, 1.9], [0.55, 1.45], R_LEFT, 0.1, (H_gray, H_blk, H_red, H_dred)),
    ([-0.1, 1.93], [0.3, 2.75], R_RIGHT, 0.5, (I_blk, I_gray, I_red, I_dred)),
]):
    xa = mk_axis("bottom", steps(0.0, 1.8, 0.1, 2), 0.2, ".1f", title=T_ALT, label_pad=2, title_pad=9)
    yl, yr = yaxes(col, yvals, ymajor, T_RATIO, T_RATIO)
    c0, c1 = (BLACK, GRAY) if col == 2 else (GRAY, BLACK)
    lays = [(pairs_df(sets[0], swap=True), "ci", c0, 55), (pairs_df(sets[1], swap=True), "ci", c1, 55),
            (pairs_df(sets[2], swap=True), "sq", RED, 36), (pairs_df(sets[3], swap=True), "sq", DRED, 36),
            (ONE, "rule", BLACK, 0)]
    panels.append(panel(lays, xdom, ydom, xa, yl, yr, W, H))

chart = alt.concat(
    *panels, columns=3,
    spacing={"row": 49, "column": 0}, bounds="flush",
    title=alt.TitleParams("Photolysis frequency", font=FONT, fontSize=28, fontWeight="bold",
                          color="black", anchor="middle", offset=12, dx=-12),
).properties(
    padding={"left": 9, "right": 0, "top": 10, "bottom": 0},
    background="white",
).configure_view(stroke="black", strokeWidth=1)

chart.save("out.html", embed_options={"renderer": "svg", "actions": False})
